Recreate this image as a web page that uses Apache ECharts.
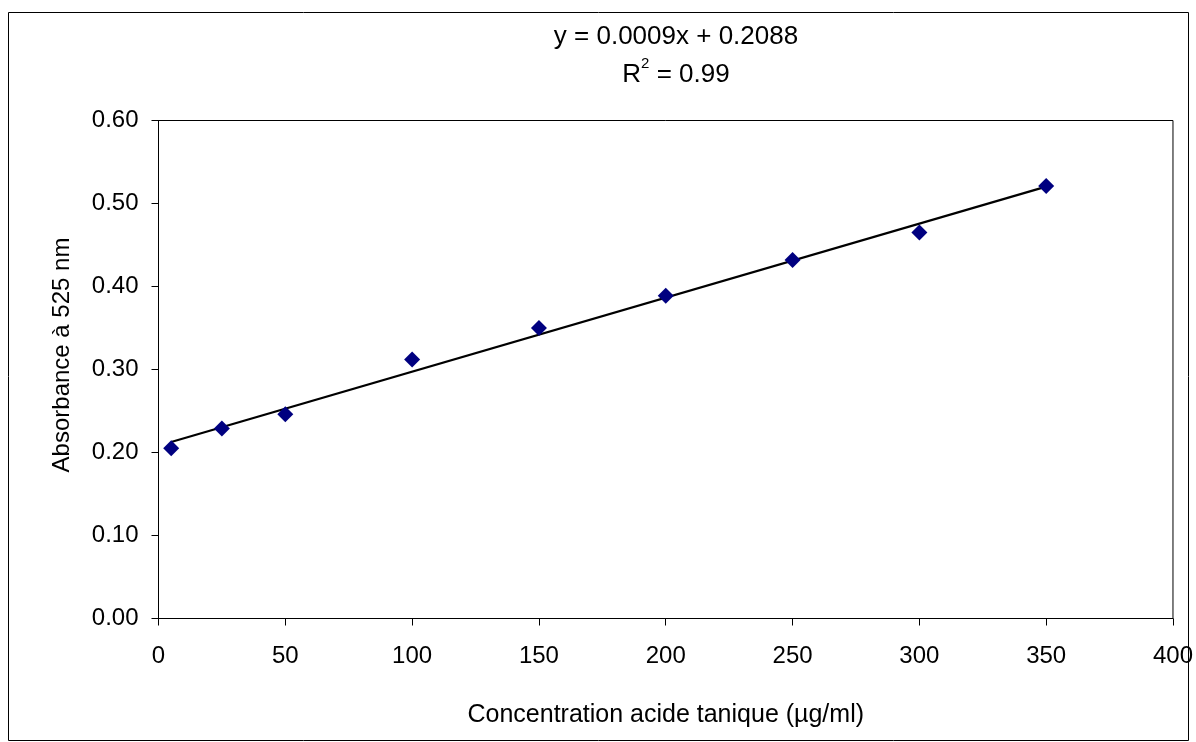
<!DOCTYPE html>
<html>
<head>
<meta charset="utf-8">
<script src="https://cdn.jsdelivr.net/npm/echarts@6/dist/echarts.min.js"></script>
<style>
  html, body { margin: 0; padding: 0; background: #fff; }
  #chart { width: 1196px; height: 742px; }
</style>
</head>
<body>
<div id="chart"></div>
<script>
// concentrations (µg/ml) and absorbance
const concentrations = [5, 25, 50, 100, 150, 200, 250, 300, 350]
const absorbance = [0.205, 0.229, 0.246, 0.312, 0.350, 0.389, 0.432, 0.465, 0.521]
const yTicks = [0, 0.1, 0.2, 0.3, 0.4, 0.5, 0.6]
const xTicks = [0, 50, 100, 150, 200, 250, 300, 350, 400]

const FONT = '"Liberation Sans", Arial, sans-serif'

// least squares fit, like the Excel trendline
const n = concentrations.length
const mx = concentrations.reduce((a, b) => a + b, 0) / n
const my = absorbance.reduce((a, b) => a + b, 0) / n
let sxy = 0, sxx = 0
concentrations.forEach((x, i) => {
    sxy += (x - mx) * (absorbance[i] - my)
    sxx += (x - mx) * (x - mx)
})
const slope = sxy / sxx
const intercept = my - slope * mx
const xFirst = concentrations[0]
const xLast = concentrations[n - 1]
const trend = [[xFirst, intercept + slope * xFirst], [xLast, intercept + slope * xLast]]

const chart = echarts.init(document.getElementById('chart'))
chart.setOption({
    animation: false,
    backgroundColor: '#fff',
    textStyle: { fontFamily: FONT },
    title: {
        text: 'y = 0.0009x + 0.2088\nR{sup|2} = 0.99',
        left: 671,
        top: 13,
        textAlign: 'center',
        textStyle: {
            fontFamily: FONT,
            fontSize: 26,
            fontWeight: 'normal',
            color: '#000',
            lineHeight: 38,
            rich: {
                sup: { fontSize: 15, verticalAlign: 'top', lineHeight: 28, fontFamily: FONT, color: '#000' }
            }
        }
    },
    graphic: [
        {
            type: 'rect',
            shape: { x: 8.5, y: 12.5, width: 1180, height: 728 },
            style: { fill: null, stroke: '#000', lineWidth: 1 },
            silent: true
        },
        {
            // y axis title
            type: 'text',
            x: 62,
            y: 355,
            rotation: Math.PI / 2,
            style: {
                text: 'Absorbance à 525 nm',
                fontSize: 24,
                fontFamily: FONT,
                fill: '#000',
                align: 'center',
                verticalAlign: 'middle'
            },
            silent: true
        }
    ],
    grid: { left: 158.5, right: 21.5, top: 120.5, bottom: 123.5, show: true, borderColor: '#000', borderWidth: 1 },
    xAxis: {
        type: 'value',
        min: 0,
        max: 400,
        interval: 50,
        name: 'Concentration acide tanique (µg/ml)',
        nameLocation: 'middle',
        nameGap: 84,
        nameTextStyle: { fontSize: 25, color: '#000', fontFamily: FONT },
        axisLine: { onZero: false, lineStyle: { color: '#000', width: 1 } },
        axisTick: { show: true, length: 7, lineStyle: { color: '#000' } },
        axisLabel: {
            color: '#000', fontSize: 24, margin: 26, fontFamily: FONT,
            formatter: v => xTicks.includes(v) ? String(v) : ''
        },
        splitLine: { show: false }
    },
    yAxis: {
        type: 'value',
        min: 0,
        max: 0.6,
        interval: 0.1,
        axisLine: { show: true, lineStyle: { color: '#000', width: 1 } },
        axisTick: { show: true, length: 7, lineStyle: { color: '#000' } },
        axisLabel: {
            color: '#000', fontSize: 24, margin: 20, fontFamily: FONT,
            formatter: v => yTicks.some(t => Math.abs(t - v) < 1e-9) ? v.toFixed(2) : ''
        },
        splitLine: { show: false }
    },
    series: [
        {
            name: 'trend',
            type: 'line',
            data: trend,
            showSymbol: false,
            lineStyle: { color: '#000', width: 2.2 },
            silent: true,
            z: 2
        },
        {
            name: 'Absorbance',
            type: 'scatter',
            data: concentrations.map((x, i) => [x, absorbance[i]]),
            symbol: 'diamond',
            symbolSize: [16, 16],
            itemStyle: { color: '#000080', opacity: 1 },
            z: 3
        }
    ]
})
</script>
</body>
</html>
